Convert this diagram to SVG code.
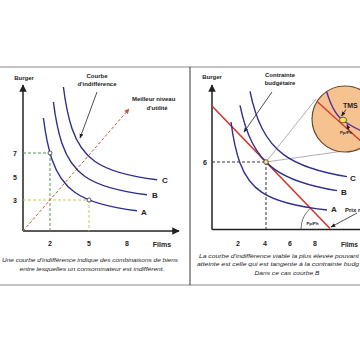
<svg xmlns="http://www.w3.org/2000/svg" width="360" height="360" viewBox="0 0 360 360">
<style>
.t{font-family:"Liberation Sans",Arial,sans-serif;font-weight:bold;fill:#222}
.lb{font-size:6px}
.tk{font-size:7px}
.cv{font-size:8px}
.cap{font-family:"Liberation Sans",Arial,sans-serif;font-style:italic;font-size:6.2px;fill:#222}
.ax{stroke:#222;stroke-width:1.5;fill:none}
.ic{stroke:#2e2f8a;stroke-width:1.4;fill:none}
.dash{stroke-width:1;stroke-dasharray:3,2;fill:none}
.ptr{stroke:#222;stroke-width:0.8;fill:none}
.frame{stroke:#8a8a8a;stroke-width:1.2;fill:none}
</style>
<defs>
<marker id="ah" viewBox="0 0 10 10" refX="9" refY="5" markerWidth="5" markerHeight="5" orient="auto"><path d="M0,0 L10,5 L0,10 z" fill="#222"/></marker>
<marker id="ahs" viewBox="0 0 10 10" refX="9" refY="5" markerWidth="6" markerHeight="6" orient="auto"><path d="M0,1 L10,5 L0,9 z" fill="#222"/></marker>
<marker id="ahr" viewBox="0 0 10 10" refX="9" refY="5" markerWidth="5" markerHeight="5" orient="auto"><path d="M0,0 L10,5 L0,10 z" fill="#c8573f"/></marker>
<clipPath id="lens"><circle cx="345" cy="119" r="33"/></clipPath>
</defs>
<rect width="360" height="360" fill="#fff"/>
<g id="frame">
<line class="frame" x1="0" y1="67" x2="360" y2="67"/>
<line class="frame" x1="0" y1="285" x2="360" y2="285"/>
<line x1="190" y1="67" x2="190" y2="285" stroke="#555" stroke-width="1.2"/>
</g>
<g id="connectors">
<line class="ax" x1="23" y1="231" x2="23" y2="85" marker-end="url(#ah)"/>
<line class="ax" x1="23" y1="231" x2="179" y2="231" marker-end="url(#ah)"/>
<line class="dash" stroke="#4c9a4c" x1="23" y1="153" x2="50" y2="153"/>
<line class="dash" stroke="#4c9a4c" x1="50" y1="153" x2="50" y2="231"/>
<line class="dash" stroke="#c9c75a" x1="23" y1="200" x2="89" y2="200"/>
<line class="dash" stroke="#c9c75a" x1="89" y1="200" x2="89" y2="231"/>
<line class="dash" stroke="#c8573f" x1="23" y1="231" x2="129" y2="109" marker-end="url(#ahr)"/>
<line class="ptr" x1="97" y1="92" x2="80" y2="138" marker-end="url(#ahs)"/>
<line class="ax" x1="212" y1="229.5" x2="212" y2="85" marker-end="url(#ah)"/>
<line class="ax" x1="212" y1="229.5" x2="362" y2="229.5"/>
<line class="dash" stroke="#333" x1="212" y1="162" x2="266" y2="162"/>
<line class="dash" stroke="#333" x1="266" y1="162" x2="266" y2="229"/>
<line x1="212" y1="106" x2="330" y2="228.5" stroke="#d2352b" stroke-width="1.6"/>
<line class="ptr" x1="272" y1="92" x2="244" y2="132" marker-end="url(#ahs)"/>
<line x1="266" y1="162" x2="316" y2="99" stroke="#777" stroke-width="0.6"/>
<line x1="266" y1="162" x2="340" y2="151.5" stroke="#777" stroke-width="0.6"/>
<path d="M301,229 A28,28 0 0 1 309.6,209" stroke="#333" stroke-width="0.7" fill="none"/>
<line class="ptr" x1="357" y1="213" x2="331" y2="227" marker-end="url(#ahs)"/>
</g>
<g id="left-curves">
<path id="curve-A-left" class="ic" d="M43.4,118 Q46.66,143.76 52,159.46 Q59.55,181.65 75,192.5 Q93.36,205.39 137,210.81"/>
<path id="curve-B-left" class="ic" d="M53.4,102 Q56.66,127.76 62,143.46 Q69.55,165.65 85,176.5 Q103.36,189.39 147,194.81"/>
<path id="curve-C-left" class="ic" d="M63.4,87 Q66.66,112.76 72,128.46 Q79.55,150.65 95,161.5 Q113.36,174.39 157,179.81"/>
<circle cx="50" cy="153" r="2" fill="#fff" stroke="#333" stroke-width="0.8"/>
<circle cx="89" cy="200" r="2" fill="#fff" stroke="#333" stroke-width="0.8"/>
</g>
<g id="right-curves">
<path id="curve-A-right" class="ic" d="M231,122 Q234.34,147.71 240,162.91 Q247.33,182.61 262,192.45 Q280.69,205.01 327,210.07"/>
<path id="curve-B-right" class="ic" d="M240,105.27 Q244.71,127.71 252,142.24 Q260.31,158.8 274,168.86 Q294.16,183.67 337,190.64"/>
<path id="curve-C-right" class="ic" d="M250,91.27 Q254.71,113.71 262,128.24 Q270.31,144.8 284,154.86 Q304.16,169.67 347,176.64"/>
<circle cx="266" cy="162" r="2.3" fill="#f3e79a" stroke="#333" stroke-width="0.8"/>
</g>
<g id="lens-node">
<circle cx="345" cy="119" r="33" fill="#f6c290" stroke="#6b4a2e" stroke-width="1.2"/>
<g clip-path="url(#lens)">
<path d="M325,86 Q332,112 342,119.5 Q350,126 366,133" stroke="#5a2f9a" stroke-width="1.4" fill="none"/>
<line x1="311" y1="96" x2="364" y2="144" stroke="#d2352b" stroke-width="1.4"/>
</g>
<ellipse cx="343" cy="120" rx="3.6" ry="2.8" fill="#f2e64a" stroke="#333" stroke-width="0.7"/>
<line class="ptr" x1="346" y1="109.5" x2="341.5" y2="116" marker-end="url(#ahs)"/>
<line class="ptr" x1="349" y1="130" x2="347" y2="124.5" marker-end="url(#ahs)"/>
<text class="t" x="343" y="108" font-size="7">TMS</text>
<text class="t" x="340" y="134" font-size="4.3">Pp/Ph</text>
</g>
<g id="left-labels">
<text class="t lb" x="24" y="80" text-anchor="middle">Burger</text>
<text class="t lb" x="97" y="78" text-anchor="middle">Courbe</text>
<text class="t lb" x="97" y="86" text-anchor="middle">d'indifférence</text>
<text class="t lb" x="132" y="101">Meilleur niveau</text>
<text class="t lb" x="157" y="110" text-anchor="middle">d'utilité</text>
<text class="t tk" x="15" y="155.5" text-anchor="middle">7</text>
<text class="t tk" x="15" y="179.5" text-anchor="middle">5</text>
<text class="t tk" x="15" y="202.5" text-anchor="middle">3</text>
<text class="t tk" x="50" y="246" text-anchor="middle">2</text>
<text class="t tk" x="89" y="246" text-anchor="middle">5</text>
<text class="t tk" x="127" y="246" text-anchor="middle">8</text>
<text class="t tk" x="162" y="247" text-anchor="middle">Films</text>
<text class="t cv" x="141" y="215">A</text>
<text class="t cv" x="152" y="198">B</text>
<text class="t cv" x="162" y="183">C</text>
<text class="cap" x="90" y="262" text-anchor="middle" textLength="176" lengthAdjust="spacingAndGlyphs">Une courbe d'indifférence indique des combinaisons de biens</text>
<text class="cap" x="92" y="271" text-anchor="middle" textLength="145" lengthAdjust="spacingAndGlyphs">entre lesquelles un consommateur est indifférent.</text>
</g>
<g id="right-labels">
<text class="t lb" x="212" y="79" text-anchor="middle">Burger</text>
<text class="t lb" x="280" y="77" text-anchor="middle">Contrainte</text>
<text class="t lb" x="280" y="85" text-anchor="middle">budgétaire</text>
<text class="t tk" x="205" y="164.5" text-anchor="middle">6</text>
<text class="t tk" x="238" y="246" text-anchor="middle">2</text>
<text class="t tk" x="265" y="246" text-anchor="middle">4</text>
<text class="t tk" x="290" y="246" text-anchor="middle">6</text>
<text class="t tk" x="315" y="246" text-anchor="middle">8</text>
<text class="t" x="341" y="247" font-size="6.5">Films</text>
<text class="t cv" x="331" y="212">A</text>
<text class="t cv" x="341" y="195">B</text>
<text class="t cv" x="350" y="181">C</text>
<text class="t lb" x="345" y="212">Prix r</text>
<text class="t" x="312.5" y="225" font-size="4.3" text-anchor="middle">Pp/Ph</text>
<text class="cap" x="199" y="258" textLength="160" lengthAdjust="spacingAndGlyphs">La courbe d'indifférence viable la plus élevée pouvant</text>
<text class="cap" x="197" y="265.5" textLength="162" lengthAdjust="spacingAndGlyphs">atteinte est celle qui est tangente à la contrainte budg</text>
<text class="cap" x="287" y="275" text-anchor="middle" textLength="65" lengthAdjust="spacingAndGlyphs">Dans ce cas courbe B</text>
</g>
</svg>
